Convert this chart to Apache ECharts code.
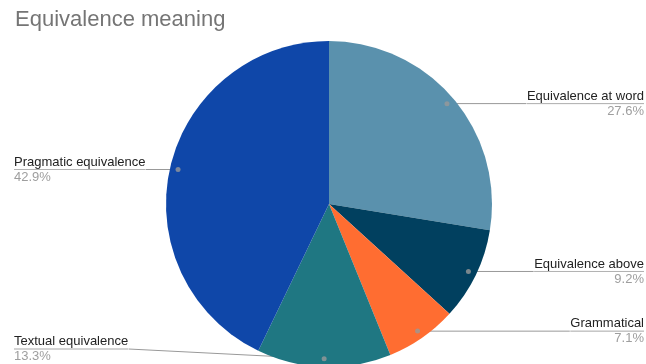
<!DOCTYPE html>
<html>
<head>
<meta charset="utf-8">
<script src="https://cdn.jsdelivr.net/npm/echarts@6/dist/echarts.min.js"></script>
<style>
  html, body { margin: 0; padding: 0; background: #fff; }
  #chart { width: 646px; height: 364px; }
</style>
</head>
<body>
<div id="chart"></div>
<script>
// slices, clockwise from 12 o'clock
const names = ['Equivalence at word', 'Equivalence above', 'Grammatical', 'Textual equivalence', 'Pragmatic equivalence'];
const values = [27.6, 9.2, 7.1, 13.3, 42.9];
const colors = ['#5a91ad', '#01405f', '#ff6d31', '#1f7782', '#0f47a9'];

const pieData = names.map((n, i) => ({ name: n, value: values[i], itemStyle: { color: colors[i] } }));

// middle of each slice, for the little dots where the label lines start
const total = values.reduce((a, b) => a + b, 0);
let acc = 0;
const dots = values.map(v => {
  const mid = acc + v / 2;
  acc += v;
  return [0.95, mid];
});

const chart = echarts.init(document.getElementById('chart'));

const option = {
  animation: false,
  title: {
    text: 'Equivalence meaning',
    left: 10,
    top: 4,
    textStyle: { color: '#757575', fontSize: 22, fontWeight: 'normal', fontFamily: 'Liberation Sans, Arial, sans-serif' }
  },
  polar: { center: [329, 204], radius: 163 },
  angleAxis: { type: 'value', min: 0, max: total, startAngle: 90, clockwise: true, show: false },
  radiusAxis: { type: 'value', min: 0, max: 1, show: false },
  series: [
    {
      type: 'pie',
      left: 12, right: 0, top: 0, bottom: 0,
      center: [317, 204],
      radius: 163,
      startAngle: 90,
      clockwise: true,
      silent: true,
      data: pieData,
      label: { show: false },
      labelLine: { show: false }
    },
    {
      // transparent copy, only here to place labels and their lines
      type: 'pie',
      left: 12, right: 0, top: 0, bottom: 0,
      center: [317, 204],
      radius: 155,
      startAngle: 90,
      clockwise: true,
      silent: true,
      data: pieData.map(d => ({ name: d.name, value: d.value })),
      itemStyle: { color: 'rgba(0,0,0,0)' },
      label: {
        show: true,
        position: 'outside',
        alignTo: 'edge',
        edgeDistance: 2,
        distanceToLabelLine: 0,
        fontFamily: 'Liberation Sans, Arial, sans-serif',
        formatter: p => '{name|' + p.name + '}\n{hr|}\n{pct|' + p.value + '%}',
        rich: {
          name: { color: '#222', fontSize: 13, lineHeight: 15, fontFamily: 'Liberation Sans, Arial, sans-serif' },
          hr: { borderColor: '#999', width: '100%', borderWidth: 0.5, height: 0 },
          pct: { color: '#9e9e9e', fontSize: 13, lineHeight: 15, fontFamily: 'Liberation Sans, Arial, sans-serif' }
        }
      },
      labelLine: {
        show: true,
        length: 0,
        length2: 0,
        lineStyle: { color: '#999', width: 1 }
      }
    },
    {
      type: 'scatter',
      coordinateSystem: 'polar',
      silent: true,
      symbolSize: 5,
      itemStyle: { color: '#999' },
      data: dots,
      z: 5
    }
  ]
};

chart.setOption(option);
window.addEventListener('resize', () => {
  chart.resize();
});
</script>
</body>
</html>
